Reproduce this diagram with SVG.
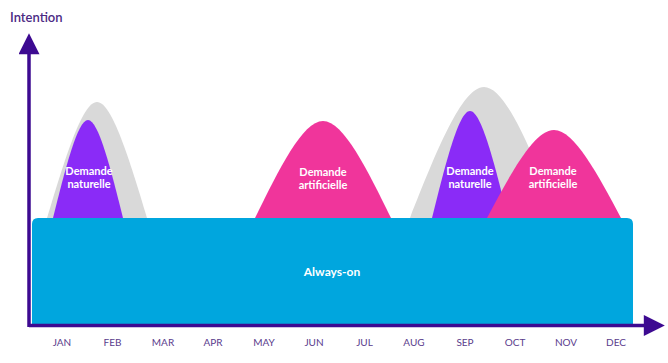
<svg xmlns="http://www.w3.org/2000/svg" width="668" height="363" viewBox="0 0 668 363">
<defs>
<style>
.grey{fill:#D9D9D9}
.nat{fill:#8A2BF7}
.art{fill:#F0359B}
.lbl{font-family:Lato,"Open Sans",sans-serif;font-weight:700;font-size:11px;fill:#FFFFFF;text-anchor:middle}
.mon{font-family:Lato,"Open Sans",sans-serif;font-weight:400;font-size:10px;fill:#5A3C8C;text-anchor:middle}
.axis{stroke:#3D0A91;stroke-width:3.5;fill:none}
</style>
<marker id="ah" viewBox="0 0 10 10" refX="2" refY="5" markerWidth="6.5" markerHeight="6" orient="auto" markerUnits="strokeWidth">
<path d="M0,0 L10,5 L0,10 Z" fill="#3D0A91"/>
</marker>
</defs>
<rect width="668" height="363" fill="#FFFFFF"/>
<text x="10" y="22" font-family="Lato,'Open Sans',sans-serif" font-weight="600" font-size="13" fill="#4B2A84">Intention</text>

<g id="bg-jan">
<path class="grey" d="M46,226 L47,218 C64.5,160 82,102 97,102 C112,102 129.5,160 147,218 L148,226 Z"/>
</g>
<g id="naturelle-1">
<path class="nat" d="M52,226 L53,218 C65.25,169 77.5,120 88,120 C98.5,120 110.75,169 123,218 L124,226 Z"/>
<text class="lbl" x="89" y="175">Demande</text>
<text class="lbl" x="89" y="188">naturelle</text>
</g>
<g id="artificielle-1">
<path class="art" d="M254,226 L255,218 C278.8,169.5 302.6,121 323,121 C343.4,121 367.2,169.5 391,218 L392,226 Z"/>
<text class="lbl" x="323" y="176">Demande</text>
<text class="lbl" x="323" y="189">artificielle</text>
</g>
<g id="bg-sep">
<path class="grey" d="M409,226 L410,218 C435.9,152.5 461.8,87 484,87 C506.2,87 532.1,152.5 558,218 L559,226 Z"/>
</g>
<g id="naturelle-2">
<path class="nat" d="M431,226 L432,218 C445.3,164.5 458.6,111 470,111 C481.4,111 494.7,164.5 508,218 L509,226 Z"/>
<text class="lbl" x="470" y="175">Demande</text>
<text class="lbl" x="470" y="188">naturelle</text>
</g>
<g id="artificielle-2">
<path class="art" d="M486,226 L487,218 C510.45,174 533.9,130 554,130 C574.1,130 597.55,174 621,218 L622,226 Z"/>
<text class="lbl" x="553" y="175">Demande</text>
<text class="lbl" x="553" y="188">artificielle</text>
</g>
<g id="always-on">
<path d="M32,324 L32,224 Q32,218 38,218 L627,218 Q633,218 633,224 L633,324 Z" fill="#00A6DE"/>
<text class="lbl" x="332" y="276" style="font-size:12px">Always-on</text>
</g>

<g id="connectors">
<path class="axis" d="M29,327 L29,50" marker-end="url(#ah)"/>
<path class="axis" d="M29,325.5 L648,325.5" marker-end="url(#ah)"/>
</g>

<g id="months">
<text class="mon" x="62" y="346">JAN</text>
<text class="mon" x="112.5" y="346">FEB</text>
<text class="mon" x="163" y="346">MAR</text>
<text class="mon" x="213" y="346">APR</text>
<text class="mon" x="264" y="346">MAY</text>
<text class="mon" x="314" y="346">JUN</text>
<text class="mon" x="364.5" y="346">JUL</text>
<text class="mon" x="414" y="346">AUG</text>
<text class="mon" x="465" y="346">SEP</text>
<text class="mon" x="515" y="346">OCT</text>
<text class="mon" x="566" y="346">NOV</text>
<text class="mon" x="616" y="346">DEC</text>
</g>
</svg>
